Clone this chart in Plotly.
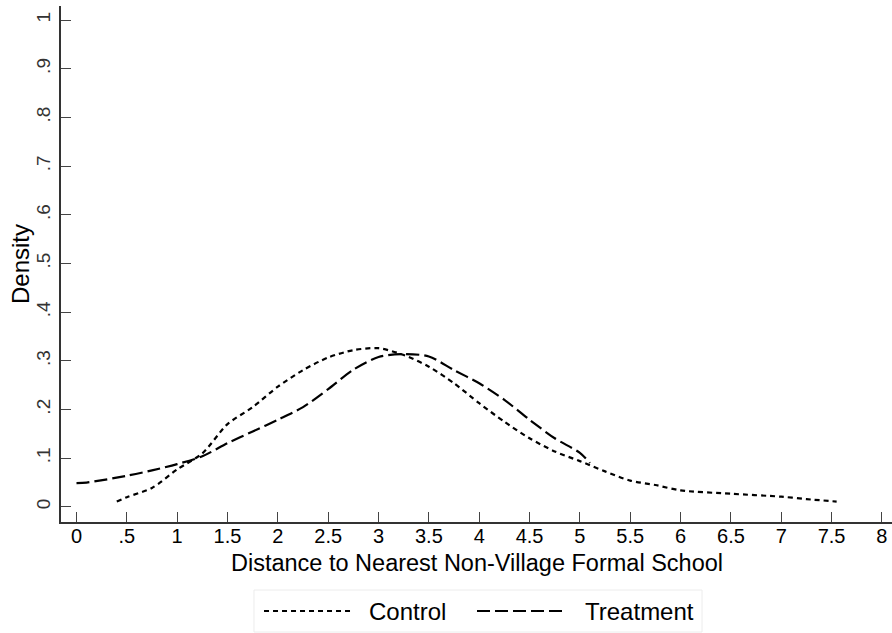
import plotly.graph_objects as go

# Data (kernel density estimates)
control_x = [0.40, 0.50, 0.75, 1.00, 1.25, 1.50, 1.75, 2.00, 2.25, 2.50, 2.75, 3.00,
             3.25, 3.50, 3.75, 4.00, 4.25, 4.50, 4.75, 5.00, 5.25, 5.50, 5.75, 6.00,
             6.50, 7.00, 7.25, 7.55]
control_y = [0.011, 0.020, 0.039, 0.077, 0.110, 0.170, 0.205, 0.247, 0.281, 0.307, 0.322, 0.326,
             0.312, 0.288, 0.254, 0.213, 0.175, 0.141, 0.114, 0.094, 0.073, 0.054, 0.045, 0.034,
             0.027, 0.021, 0.016, 0.011]

treat_x = [0.00, 0.10, 0.50, 0.75, 1.00, 1.25, 1.50, 1.75, 2.00, 2.25, 2.50, 2.75, 3.00,
           3.25, 3.50, 3.75, 4.00, 4.25, 4.50, 4.75, 5.00, 5.10]
treat_y = [0.049, 0.050, 0.064, 0.075, 0.088, 0.104, 0.131, 0.155, 0.179, 0.205, 0.242, 0.282, 0.308,
           0.314, 0.309, 0.281, 0.254, 0.220, 0.179, 0.141, 0.111, 0.090]

x_ticks = [0, 0.5, 1, 1.5, 2, 2.5, 3, 3.5, 4, 4.5, 5, 5.5, 6, 6.5, 7, 7.5, 8]
x_labels = ["0", ".5", "1", "1.5", "2", "2.5", "3", "3.5", "4", "4.5", "5", "5.5",
            "6", "6.5", "7", "7.5", "8"]
y_ticks = [0, 0.1, 0.2, 0.3, 0.4, 0.5, 0.6, 0.7, 0.8, 0.9, 1.0]
y_labels = ["0", ".1", ".2", ".3", ".4", ".5", ".6", ".7", ".8", ".9", "1"]

series_names = ["Control", "Treatment"]
series_dash = ["5px,4px", "13px,5px"]
x_title = "Distance to Nearest Non-Village Formal School"
y_title = "Density"

FONT = "Liberation Sans, Arial, sans-serif"

fig = go.Figure()
fig.add_trace(go.Scatter(
    x=control_x, y=control_y, mode="lines", name=series_names[0], showlegend=False,
    line=dict(color="black", width=2.2, dash=series_dash[0], shape="spline", smoothing=0.8),
))
fig.add_trace(go.Scatter(
    x=treat_x, y=treat_y, mode="lines", name=series_names[1], showlegend=False,
    line=dict(color="black", width=2.2, dash=series_dash[1], shape="spline", smoothing=0.8),
))

# Axis titles placed as in the Stata original
fig.add_annotation(text=x_title, xref="paper", yref="paper", x=0.5, y=-0.0785,
                   xanchor="center", yanchor="middle", showarrow=False,
                   font=dict(size=23.5, family=FONT, color="black"))
fig.add_annotation(text=y_title, xref="paper", yref="paper", x=-0.0493, y=0.5,
                   xanchor="center", yanchor="middle", showarrow=False, textangle=-90,
                   font=dict(size=24, family=FONT, color="black"))

# Stata-style legend box below the plot (paper coordinates)
fig.add_shape(type="rect", xref="paper", yref="paper",
              x0=0.2322, x1=0.7714, y0=-0.2132, y1=-0.1318,
              line=dict(color="#ececec", width=1), fillcolor="white", layer="below")
legend_line_x = [(0.2443, 0.3478), (0.5006, 0.6089)]
legend_text_x = [0.3682, 0.6282]
for name, dash, (lx0, lx1), tx in zip(series_names, series_dash, legend_line_x, legend_text_x):
    fig.add_shape(type="line", xref="paper", yref="paper",
                  x0=lx0, x1=lx1, y0=-0.1725, y1=-0.1725,
                  line=dict(color="black", width=2.2, dash=dash))
    fig.add_annotation(text=name, xref="paper", yref="paper", x=tx, y=-0.1725,
                       xanchor="left", yanchor="middle", showarrow=False,
                       font=dict(size=24, family=FONT, color="black"))

fig.update_layout(
    width=892, height=633,
    margin=dict(l=61, r=0, t=6, b=111),
    paper_bgcolor="white", plot_bgcolor="white",
    font=dict(family=FONT, color="black"),
    showlegend=False,
    xaxis=dict(
        range=[-0.154, 8.1], tickmode="array", tickvals=x_ticks, ticktext=x_labels,
        ticks="inside", ticklen=10, tickwidth=1.2, tickcolor="#444",
        showline=True, linecolor="#333", linewidth=1.5, showgrid=False, zeroline=False,
        tickfont=dict(size=20, family=FONT), ticklabelstandoff=-5, automargin=False,
    ),
    yaxis=dict(
        range=[-0.031, 1.029], tickmode="array", tickvals=y_ticks, ticktext=y_labels,
        ticks="inside", ticklen=10, tickwidth=1.2, tickcolor="#444", tickangle=-90,
        showline=True, linecolor="#333", linewidth=1.5, showgrid=False, zeroline=False,
        tickfont=dict(size=19, family=FONT, color="#333"), ticklabelstandoff=2,
        automargin=False,
    ),
)

fig.write_html("out.html", config={"displayModeBar": False},
               post_script="document.body.style.margin='0';")
